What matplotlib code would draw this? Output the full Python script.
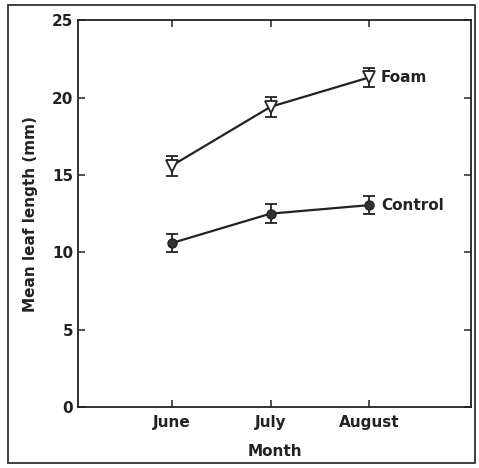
import matplotlib.pyplot as plt
from matplotlib.patches import Rectangle

months = ["June", "July", "August"]
foam = [15.6, 19.4, 21.3]
foam_err = [0.65, 0.65, 0.6]
control = [10.6, 12.5, 13.05]
control_err = [0.6, 0.6, 0.6]

plt.rcParams['font.family'] = ['DejaVu Sans']

fig = plt.figure(figsize=(4.79, 4.68), dpi=100)
ax = fig.add_axes([0.163, 0.13, 0.82, 0.827])

x = [1, 2, 3]
ax.errorbar(x, foam, yerr=foam_err, color="#222222", marker="v", mfc="white",
            mec="#222222", ms=8, mew=1.3, lw=1.6, capsize=4, elinewidth=1.3, capthick=1.3)
ax.errorbar(x, control, yerr=control_err, color="#222222", marker="o", mfc="#333333",
            mec="#222222", ms=6.5, lw=1.6, capsize=4, elinewidth=1.3, capthick=1.3)

ax.text(3.12, foam[-1], "Foam", va="center", ha="left", fontsize=11, fontweight="semibold", color="#222222")
ax.text(3.12, control[-1], "Control", va="center", ha="left", fontsize=11, fontweight="semibold", color="#222222")

ax.set_xlim(0.05, 4.03)
ax.set_ylim(0, 25)
ax.set_xticks(x)
ax.set_xticklabels(months)
ax.set_yticks([0, 5, 10, 15, 20, 25])
ax.tick_params(direction="in", top=True, right=True, length=5, width=1.1,
               labelsize=11, colors="#222222")
ax.tick_params(axis="x", pad=6)
for lab in ax.get_xticklabels() + ax.get_yticklabels():
    lab.set_fontweight("semibold")
for s in ax.spines.values():
    s.set_linewidth(1.3)
    s.set_color("#222222")

ax.set_xlabel("Month", fontsize=11, fontweight="semibold", color="#222222", labelpad=10)
ax.set_ylabel("Mean leaf length (mm)", fontsize=11, fontweight="semibold", color="#222222", labelpad=10)

fig.patches.append(Rectangle((8 / 479, 5 / 468), 467 / 479, 458 / 468, transform=fig.transFigure,
                             fill=False, lw=1.3, ec="#333333"))

fig.savefig("out.png", dpi=100)
